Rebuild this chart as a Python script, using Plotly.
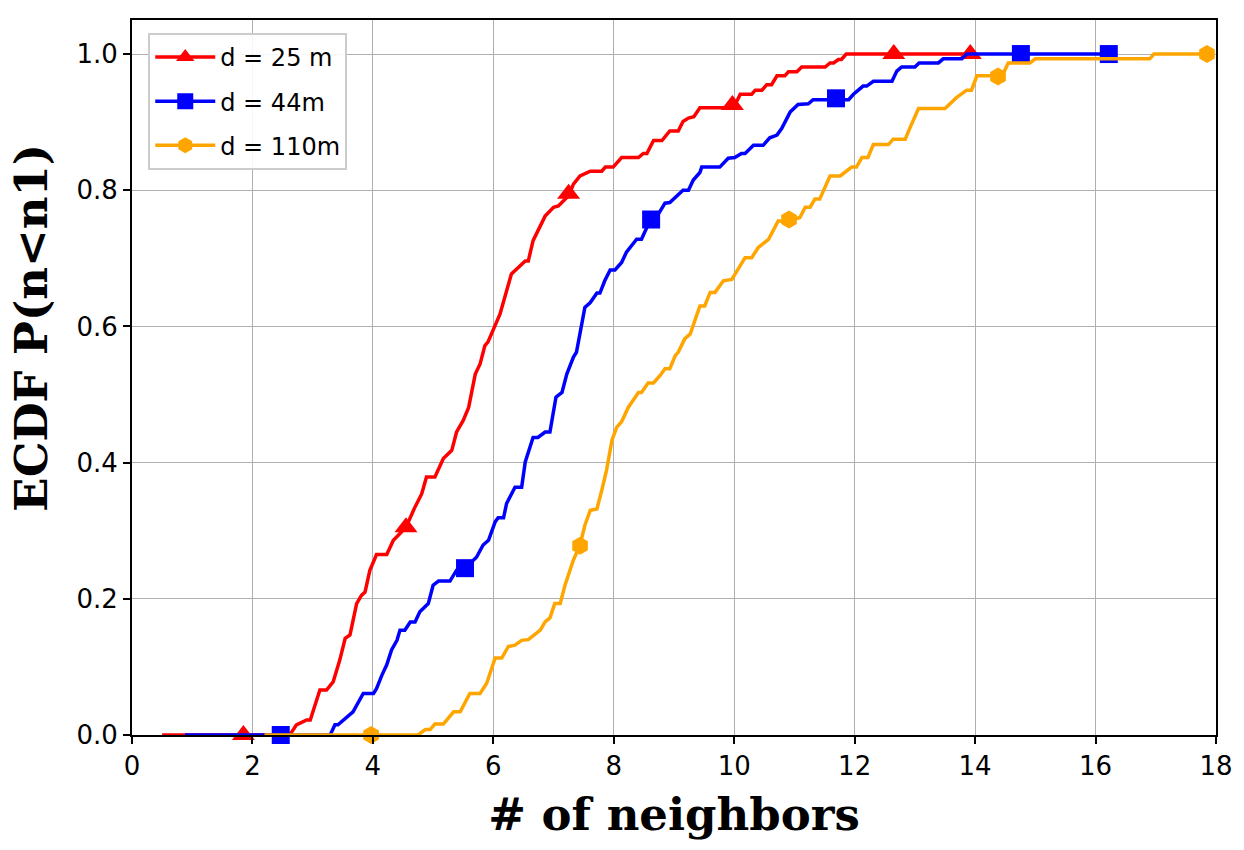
import plotly.graph_objects as go

# ECDF curves
red_x = [0.5, 2.62, 2.73, 2.9, 2.96, 3.12, 3.23, 3.34, 3.45, 3.54, 3.62, 3.73, 3.81, 3.87, 3.95,
         4.06, 4.23, 4.34, 4.45, 4.55, 4.70, 4.81, 4.89, 5.03, 5.17, 5.31, 5.39, 5.5, 5.59, 5.70,
         5.78, 5.86, 5.91, 6.11, 6.30, 6.53, 6.58, 6.66, 6.86, 7.0, 7.08, 7.25, 7.33, 7.44, 7.61,
         7.80, 7.86, 7.99, 8.13, 8.41, 8.49, 8.55, 8.66, 8.80, 8.93, 9.07, 9.15, 9.24, 9.33, 9.43,
         9.79, 9.99, 10.10, 10.29, 10.35, 10.46, 10.54, 10.62, 10.71, 10.84, 10.90, 11.04, 11.12,
         11.51, 11.59, 11.65, 11.73, 11.78, 11.86, 13.92]
red_y = [0, 0, 0.015, 0.022, 0.022, 0.066, 0.066, 0.078, 0.11, 0.142, 0.147, 0.193, 0.205, 0.21, 0.242,
         0.265, 0.265, 0.286, 0.296, 0.305, 0.335, 0.354, 0.379, 0.379, 0.406, 0.418, 0.445, 0.462, 0.481, 0.530,
         0.545, 0.572, 0.577, 0.618, 0.677, 0.696, 0.696, 0.726, 0.762, 0.775, 0.777, 0.792, 0.809, 0.821, 0.828,
         0.828, 0.834, 0.834, 0.848, 0.848, 0.854, 0.854, 0.873, 0.873, 0.887, 0.887, 0.901, 0.906, 0.908, 0.921,
         0.921, 0.921, 0.941, 0.941, 0.947, 0.947, 0.955, 0.955, 0.968, 0.968, 0.974, 0.974, 0.981,
         0.981, 0.987, 0.987, 0.992, 0.992, 1.0, 1.0]

blue_x = [0.88, 3.29, 3.37, 3.42, 3.67, 3.84, 4.01, 4.06, 4.15, 4.23, 4.31, 4.40, 4.45, 4.53, 4.62,
          4.70, 4.78, 4.92, 5.0, 5.09, 5.28, 5.39, 5.53, 5.72, 5.83, 5.92, 6.03, 6.08, 6.17, 6.22,
          6.36, 6.47, 6.53, 6.66, 6.74, 6.86, 6.94, 7.0, 7.04, 7.14, 7.22, 7.33, 7.38, 7.52, 7.61,
          7.72, 7.77, 7.85, 7.94, 8.02, 8.13, 8.21, 8.32, 8.38, 8.46, 8.60, 8.74, 8.85, 8.93, 9.15,
          9.24, 9.32, 9.43, 9.46, 9.76, 9.90, 10.01, 10.12, 10.18, 10.32, 10.48, 10.59, 10.71, 10.79,
          10.93, 11.06, 11.23, 11.31, 11.90, 11.98, 12.14, 12.20, 12.31, 12.62, 12.70, 12.78, 13.0,
          13.07, 13.39, 13.47, 13.78, 13.86, 16.24]
blue_y = [0, 0, 0.015, 0.015, 0.034, 0.061, 0.061, 0.068, 0.088, 0.103, 0.125, 0.139, 0.154, 0.154, 0.166,
          0.166, 0.181, 0.193, 0.22, 0.226, 0.226, 0.242, 0.245, 0.261, 0.279, 0.286, 0.313, 0.319, 0.319, 0.340,
          0.364, 0.364, 0.401, 0.437, 0.437, 0.445, 0.445, 0.477, 0.496, 0.503, 0.530, 0.555, 0.562, 0.628, 0.635,
          0.649, 0.649, 0.667, 0.683, 0.683, 0.694, 0.709, 0.721, 0.728, 0.728, 0.755, 0.765, 0.781, 0.782, 0.8,
          0.8, 0.815, 0.826, 0.834, 0.834, 0.847, 0.848, 0.854, 0.854, 0.866, 0.866, 0.877, 0.881, 0.891,
          0.915, 0.926, 0.927, 0.933, 0.933, 0.941, 0.953, 0.953, 0.960, 0.960, 0.975, 0.981, 0.981,
          0.987, 0.987, 0.993, 0.993, 1.0, 1.0]

orange_x = [2.2, 4.75, 4.87, 4.95, 5.03, 5.17, 5.34, 5.45, 5.61, 5.78, 5.89, 6.03, 6.14, 6.25, 6.36,
            6.47, 6.58, 6.78, 6.86, 6.94, 7.02, 7.11, 7.19, 7.33, 7.44, 7.52, 7.61, 7.72, 7.80, 7.88,
            7.97, 8.05, 8.13, 8.24, 8.41, 8.46, 8.57, 8.66, 8.77, 8.85, 8.93, 9.02, 9.07, 9.18, 9.27,
            9.43, 9.51, 9.60, 9.68, 9.82, 9.96, 10.12, 10.18, 10.29, 10.40, 10.57, 10.73, 10.90, 11.09,
            11.18, 11.26, 11.34, 11.42, 11.59, 11.76, 11.95, 12.03, 12.12, 12.22, 12.31, 12.56, 12.64,
            12.84, 12.92, 13.06, 13.50, 13.69, 13.86, 13.94, 14.03, 14.25, 14.45, 14.55, 14.91, 15.0,
            16.90, 16.97, 17.85]
orange_y = [0, 0, 0.008, 0.008, 0.016, 0.016, 0.034, 0.034, 0.061, 0.061, 0.076, 0.113, 0.113, 0.130, 0.132,
            0.139, 0.140, 0.154, 0.166, 0.172, 0.193, 0.193, 0.22, 0.257, 0.279, 0.308, 0.330, 0.332, 0.359, 0.389,
            0.433, 0.452, 0.460, 0.481, 0.503, 0.503, 0.517, 0.517, 0.528, 0.538, 0.538, 0.557, 0.562, 0.582, 0.589,
            0.630, 0.630, 0.650, 0.650, 0.667, 0.669, 0.694, 0.701, 0.701, 0.716, 0.728, 0.755, 0.755, 0.760,
            0.775, 0.775, 0.787, 0.787, 0.821, 0.821, 0.834, 0.834, 0.848, 0.848, 0.867, 0.867, 0.875,
            0.875, 0.892, 0.920, 0.920, 0.936, 0.947, 0.947, 0.968, 0.968, 0.968, 0.987, 0.987, 0.993,
            0.993, 1.0, 1.0]

# marker positions (sparse markers on each curve)
red_mx = [1.85, 4.55, 7.25, 9.97, 12.65, 13.92]
red_my = [0, 0.305, 0.795, 0.925, 1.0, 1.0]
blue_mx = [2.47, 5.53, 8.62, 11.69, 14.76, 16.22]
blue_my = [0, 0.245, 0.757, 0.935, 1.0, 1.0]
orange_mx = [3.97, 7.44, 10.91, 14.38, 17.85]
orange_my = [0, 0.278, 0.757, 0.967, 1.0]

series = [
    ("d = 25 m", red_x, red_y, red_mx, red_my, "#ff0000", "triangle-up", 20),
    ("d = 44m", blue_x, blue_y, blue_mx, blue_my, "#0000ff", "square", 18),
    ("d = 110m", orange_x, orange_y, orange_mx, orange_my, "#ffa500", "hexagon", 18),
]

fig = go.Figure()

for name, xs, ys, mx, my, color, symbol, size in series:
    # the curve itself
    fig.add_trace(go.Scatter(x=xs, y=ys, mode="lines", line=dict(color=color, width=3.5),
                             legendgroup=name, showlegend=False, hoverinfo="skip"))
    # sparse markers
    fig.add_trace(go.Scatter(x=mx, y=my, mode="markers", legendgroup=name, showlegend=False,
                             marker=dict(color=color, symbol=symbol, size=size, line=dict(width=0)),
                             cliponaxis=False))
    # legend entry
    fig.add_trace(go.Scatter(x=[None], y=[None], mode="lines+markers", name=name, legendgroup=name,
                             line=dict(color=color, width=3.5),
                             marker=dict(color=color, symbol=symbol, size=size - 2)))

axis_common = dict(
    showline=True, linecolor="black", linewidth=2, mirror=True,
    ticks="outside", ticklen=7, tickwidth=2, tickcolor="black",
    showgrid=True, gridcolor="#b0b0b0", gridwidth=1, zeroline=False,
    tickfont=dict(family="DejaVu Sans", size=26, color="black"),
)

fig.update_xaxes(range=[0, 18], dtick=2, tick0=0,
                 title=dict(text="<b># of neighbors</b>", standoff=18,
                            font=dict(family="DejaVu Serif", size=45, color="black")),
                 **axis_common)
fig.update_yaxes(range=[0, 1.05], tickvals=[0, 0.2, 0.4, 0.6, 0.8, 1.0], tickformat=".1f",
                 **axis_common)

# y label placed like the reference (slightly above the axis centre)
fig.add_annotation(text="<b>ECDF P(n<n1)</b>", xref="paper", yref="paper",
                   x=-0.093, y=0.57, xanchor="center", yanchor="middle",
                   textangle=-90, showarrow=False,
                   font=dict(family="DejaVu Serif", size=45, color="black"))

fig.update_layout(
    width=1244, height=850,
    margin=dict(l=124, r=36, t=10, b=123),
    plot_bgcolor="white", paper_bgcolor="white",
    legend=dict(x=0.015, y=0.982, xanchor="left", yanchor="top",
                bgcolor="rgba(255,255,255,0.9)", bordercolor="#cccccc", borderwidth=2,
                font=dict(family="DejaVu Sans", size=24, color="black"),
                itemwidth=60, tracegroupgap=10),
    showlegend=True,
)

fig.write_html("out.html")
